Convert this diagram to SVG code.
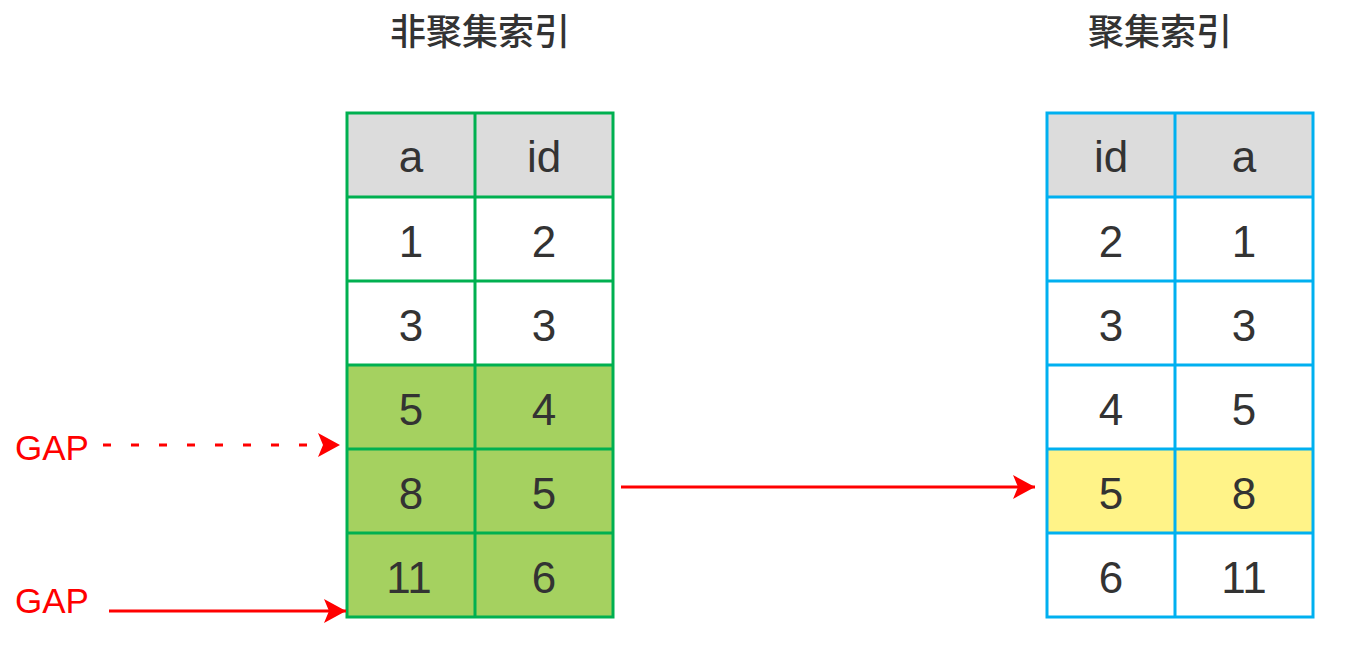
<svg xmlns="http://www.w3.org/2000/svg" width="1346" height="652" viewBox="0 0 1346 652">
<style>
.t{font-family:"Liberation Sans",Arial,sans-serif;font-size:44px;fill:#333;text-anchor:middle}
.title{font-family:"Noto Sans CJK SC","Liberation Sans",sans-serif;font-size:36px;font-weight:500;fill:#333;text-anchor:middle}
.gap{font-family:"Liberation Sans",Arial,sans-serif;font-size:35px;fill:#ff0000}
.g{stroke:#00b050;stroke-width:3}
.b{stroke:#00b0f0;stroke-width:3}
.arr{stroke:#ff0000;stroke-width:3;fill:none;marker-end:url(#ah)}
</style>
<defs>
<marker id="ah" markerUnits="userSpaceOnUse" markerWidth="24" markerHeight="26" refX="22" refY="12" orient="auto">
<path d="M0,0 L22,12 L0,24 L5,12 Z" fill="#ff0000"/>
</marker>
</defs>
<rect width="1346" height="652" fill="#fff"/>
<text class="title" x="480" y="45">非聚集索引</text>
<text class="title" x="1160" y="45">聚集索引</text>
<g id="left-table">
<rect x="347" y="113" width="266" height="84" fill="#dcdcdc"/>
<rect x="347" y="197" width="266" height="168" fill="#fff"/>
<rect x="347" y="365" width="266" height="252" fill="#a5d160"/>
<g class="g" fill="none">
<rect x="347" y="113" width="266" height="504"/>
<line x1="475" y1="113" x2="475" y2="617"/>
<line x1="347" y1="197" x2="613" y2="197"/>
<line x1="347" y1="281" x2="613" y2="281"/>
<line x1="347" y1="365" x2="613" y2="365"/>
<line x1="347" y1="449" x2="613" y2="449"/>
<line x1="347" y1="533" x2="613" y2="533"/>
</g>
<text class="t" x="411" y="172">a</text><text class="t" x="544" y="172">id</text>
<text class="t" x="411" y="257">1</text><text class="t" x="544" y="257">2</text>
<text class="t" x="411" y="341">3</text><text class="t" x="544" y="341">3</text>
<text class="t" x="411" y="425">5</text><text class="t" x="544" y="425">4</text>
<text class="t" x="411" y="509">8</text><text class="t" x="544" y="509">5</text>
<text class="t" x="409" y="593">11</text><text class="t" x="544" y="593">6</text>
</g>
<g id="right-table">
<rect x="1047" y="113" width="266" height="84" fill="#dcdcdc"/>
<rect x="1047" y="197" width="266" height="420" fill="#fff"/>
<rect x="1047" y="449" width="266" height="84" fill="#fff388"/>
<g class="b" fill="none">
<rect x="1047" y="113" width="266" height="504"/>
<line x1="1175" y1="113" x2="1175" y2="617"/>
<line x1="1047" y1="197" x2="1313" y2="197"/>
<line x1="1047" y1="281" x2="1313" y2="281"/>
<line x1="1047" y1="365" x2="1313" y2="365"/>
<line x1="1047" y1="449" x2="1313" y2="449"/>
<line x1="1047" y1="533" x2="1313" y2="533"/>
</g>
<text class="t" x="1111" y="172">id</text><text class="t" x="1244" y="172">a</text>
<text class="t" x="1111" y="257">2</text><text class="t" x="1244" y="257">1</text>
<text class="t" x="1111" y="341">3</text><text class="t" x="1244" y="341">3</text>
<text class="t" x="1111" y="425">4</text><text class="t" x="1244" y="425">5</text>
<text class="t" x="1111" y="509">5</text><text class="t" x="1244" y="509">8</text>
<text class="t" x="1111" y="593">6</text><text class="t" x="1244" y="593">11</text>
</g>
<g id="gap1"><text class="gap" x="15" y="460">GAP</text></g>
<g id="gap2"><text class="gap" x="15" y="613">GAP</text></g>
<g id="connectors">
<path class="arr" d="M103,445 L340,445" stroke-dasharray="8,20"/>
<path class="arr" d="M109,611 L346,611"/>
<path class="arr" d="M621,487 L1035,487"/>
</g>
</svg>
